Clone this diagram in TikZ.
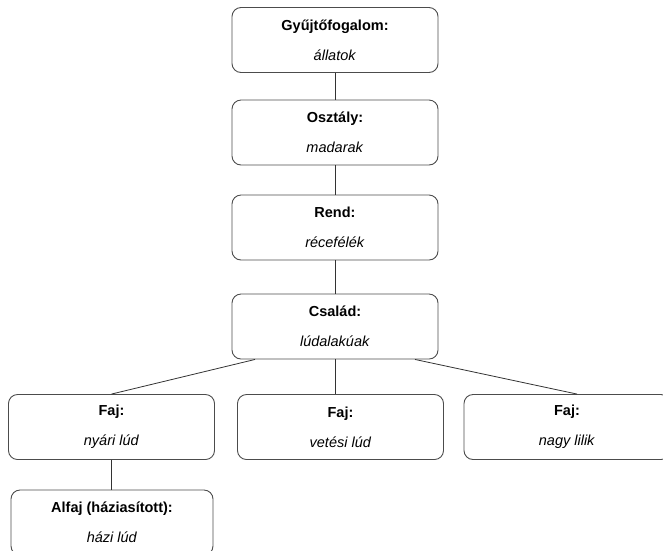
\documentclass[tikz,border=0pt]{standalone}
\usepackage{fontspec}
\setmainfont{Liberation Sans}
\tikzset{
  taxon/.style={draw=black!70, line width=0.9pt, rounded corners=9pt,
    minimum width=206pt, minimum height=65pt, inner sep=0pt, align=center,
    font=\fontsize{14.5}{17}\selectfont},
}
\newcommand{\taxtext}[2]{\textbf{#1}\\[13pt]\textit{#2}}
\begin{document}
\begin{tikzpicture}[x=1pt,y=-1pt]
      \useasboundingbox (0,0) rectangle (663,550);
      \draw
        (335,40) node[taxon] (gyujto){\taxtext{Gyűjtőfogalom:}{állatok}}
        (335,132.5) node[taxon] (osztaly){\taxtext{Osztály:}{madarak}}
        (335,227.5) node[taxon] (rend){\taxtext{Rend:}{récefélék}}
        (335,326.5) node[taxon] (csalad){\taxtext{Család:}{lúdalakúak}}
        (111.5,427) node[taxon] (faj1){\taxtext{Faj:}{nyári lúd}}
        (340.5,427) node[taxon] (faj2){\taxtext{Faj:}{vetési lúd}}
        (567,427) node[taxon] (faj3){\taxtext{Faj:}{nagy lilik}}
        (112,522.5) node[taxon, minimum width=202pt] (alfaj){\taxtext{Alfaj (háziasított):}{házi lúd}};
      \begin{scope}[-, draw=black!80, line width=0.8pt]
        \draw (gyujto) to (osztaly);
        \draw (osztaly) to (rend);
        \draw (rend) to (csalad);
        \draw ([xshift=-80pt]csalad.south) to (faj1.north);
        \draw (csalad.south) to (csalad.south |- faj2.north);
        \draw ([xshift=80pt]csalad.south) to ([xshift=10pt]faj3.north);
        \draw (faj1.south) to (faj1.south |- alfaj.north);
      \end{scope}
    \end{tikzpicture}
\end{document}
